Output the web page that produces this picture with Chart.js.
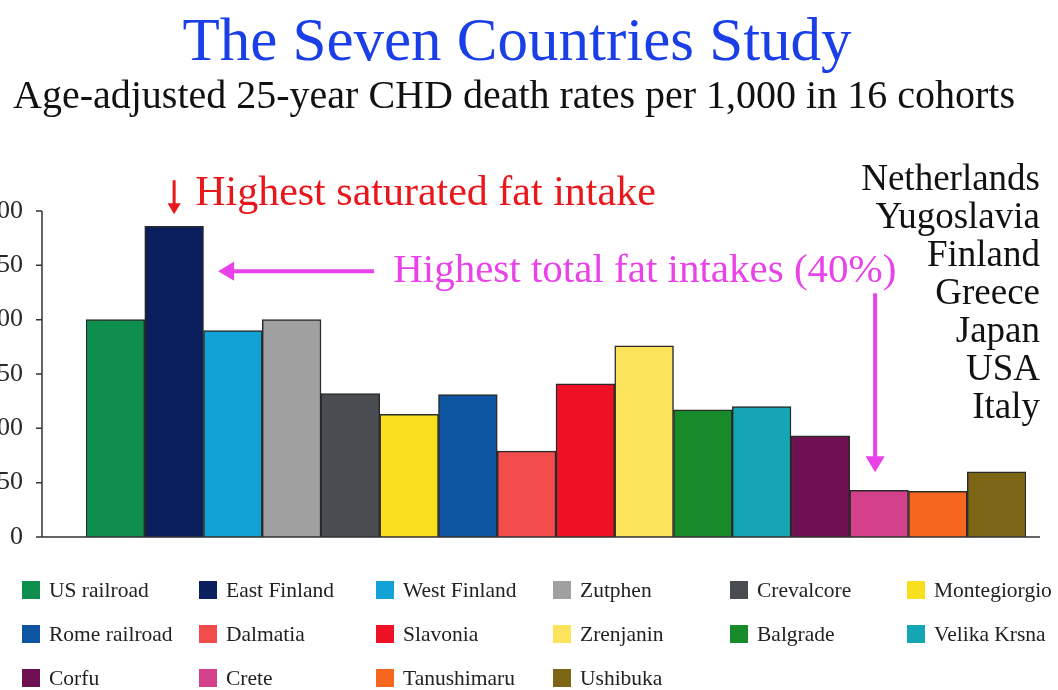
<!DOCTYPE html>
<html>
<head>
<meta charset="utf-8">
<script src="https://cdn.jsdelivr.net/npm/chart.js@4"></script>
<style>
  body { margin: 0; background: #fff; }
  #wrap { position: relative; width: 1058px; height: 690px; overflow: hidden; font-family: "Liberation Serif", serif; }
  #chart { position: absolute; left: 0; top: 0; }
  #title { position: absolute; top: 5px; left: 0; width: 1034px; text-align: center; color: #1a3fe6; font-size: 61px; line-height: 70px; }
  #subtitle { position: absolute; top: 72px; left: 0; width: 1028px; text-align: center; color: #111; font-size: 40px; line-height: 46px; }
  #countries { position: absolute; top: 159px; right: 18px; text-align: right; color: #111; font-size: 37px; line-height: 38px; }
  #legend { position: absolute; left: 22px; top: 578px; display: grid; grid-template-columns: repeat(6, 177px); grid-auto-rows: 44px; font-size: 21.5px; color: #222; }
  .item { display: flex; align-items: flex-start; white-space: nowrap; }
  .box { width: 18px; height: 18px; margin-right: 9px; margin-top: 3px; }
</style>
</head>
<body>
<div id="wrap">
  <canvas id="chart" width="1058" height="690"></canvas>
  <div id="title">The Seven Countries Study</div>
  <div id="subtitle">Age-adjusted 25-year CHD death rates per 1,000 in 16 cohorts</div>
  <div id="countries"></div>
  <div id="legend"></div>
</div>
<script>
// DADOS
const cohorts = ['US railroad', 'East Finland', 'West Finland', 'Zutphen', 'Crevalcore', 'Montegiorgio',
  'Rome railroad', 'Dalmatia', 'Slavonia', 'Zrenjanin', 'Balgrade', 'Velika Krsna',
  'Corfu', 'Crete', 'Tanushimaru', 'Ushibuka'];
const deathRates = [200, 286, 190, 200, 132, 113, 131, 79, 141, 176, 117, 120, 93, 43, 42, 60];
const barColors = ['#0f8f4e', '#0b1f5f', '#12a2d6', '#a0a0a0', '#494d51', '#f8e01e',
  '#0d55a0', '#f24c4c', '#ee1024', '#fbe35c', '#178b2a', '#14a6b2',
  '#6f1052', '#d3418b', '#f7661f', '#7c6615'];
const yTicks = [0, 50, 100, 150, 200, 250, 300];
const countries = ['Netherlands', 'Yugoslavia', 'Finland', 'Greece', 'Japan', 'USA', 'Italy'];

document.getElementById('countries').innerHTML = countries.join('<br>');

// LEGENDA
const legend = document.getElementById('legend');
cohorts.forEach((c, i) => {
  const el = document.createElement('div');
  el.className = 'item';
  el.innerHTML = '<span class="box" style="background:' + barColors[i] + '"></span>' + c;
  legend.appendChild(el);
});

function arrow(ctx, x1, y1, x2, y2, color, lw, head) {
  const a = Math.atan2(y2 - y1, x2 - x1);
  ctx.save();
  ctx.strokeStyle = color;
  ctx.fillStyle = color;
  ctx.lineWidth = lw;
  ctx.beginPath();
  ctx.moveTo(x1, y1);
  ctx.lineTo(x2 - Math.cos(a) * head * 0.8, y2 - Math.sin(a) * head * 0.8);
  ctx.stroke();
  ctx.beginPath();
  ctx.moveTo(x2, y2);
  ctx.lineTo(x2 - head * Math.cos(a) + head * 0.6 * Math.sin(a), y2 - head * Math.sin(a) - head * 0.6 * Math.cos(a));
  ctx.lineTo(x2 - head * Math.cos(a) - head * 0.6 * Math.sin(a), y2 - head * Math.sin(a) + head * 0.6 * Math.cos(a));
  ctx.closePath();
  ctx.fill();
  ctx.restore();
}

// EIXOS E ANOTAÇÕES
const extras = {
  id: 'extras',
  afterDraw(chart) {
    const { ctx, chartArea } = chart;
    const x = chart.scales.x, y = chart.scales.y;
    const axisX = chartArea.left - 44;
    ctx.save();
    ctx.strokeStyle = '#333';
    ctx.lineWidth = 1.5;
    ctx.beginPath();
    ctx.moveTo(axisX, y.getPixelForValue(300));
    ctx.lineTo(axisX, chartArea.bottom);
    ctx.lineTo(chartArea.right + 14, chartArea.bottom);
    yTicks.forEach(t => {
      const py = y.getPixelForValue(t);
      ctx.moveTo(axisX - 6, py);
      ctx.lineTo(axisX, py);
    });
    ctx.stroke();

    // gordura saturada
    const xEF = x.getPixelForValue(1);
    const topEF = y.getPixelForValue(deathRates[1]);
    arrow(ctx, xEF, topEF - 46, xEF, topEF - 12, '#e8171c', 3, 11);
    ctx.font = '42px "Liberation Serif"';
    ctx.fillStyle = '#e8171c';
    ctx.textBaseline = 'middle';
    ctx.fillText('Highest saturated fat intake', xEF + 21, topEF - 32);

    // gordura total
    const pink = '#e842e8';
    const yMid = topEF + 45;
    arrow(ctx, xEF + 200, yMid, xEF + 44, yMid, pink, 4, 16);
    ctx.fillStyle = pink;
    ctx.font = '41px "Liberation Serif"';
    ctx.fillText('Highest total fat intakes (40%)', xEF + 219, yMid);
    const xCr = x.getPixelForValue(13) - 4;
    arrow(ctx, xCr, yMid + 22, xCr, y.getPixelForValue(deathRates[13]) - 18, pink, 4, 16);
    ctx.restore();
  }
};

new Chart(document.getElementById('chart'), {
  type: 'bar',
  data: {
    labels: cohorts,
    datasets: [{
      data: deathRates,
      backgroundColor: barColors,
      borderColor: '#2a2a2a',
      borderWidth: 1.5,
      barPercentage: 1,
      categoryPercentage: 1
    }]
  },
  options: {
    responsive: false,
    animation: false,
    layout: { padding: { top: 211, right: 32, bottom: 153, left: 0 } },
    plugins: { legend: { display: false }, tooltip: { enabled: false } },
    scales: {
      x: { display: false },
      y: {
        min: 0,
        max: 300,
        afterFit: s => { s.width = 86; },
        afterBuildTicks: s => { s.ticks = yTicks.map(v => ({ value: v })); },
        grid: { display: false },
        border: { display: false },
        ticks: { padding: 55, color: '#2a2a2a', font: { family: 'Liberation Serif', size: 26 } }
      }
    }
  },
  plugins: [extras]
});
</script>
</body>
</html>
